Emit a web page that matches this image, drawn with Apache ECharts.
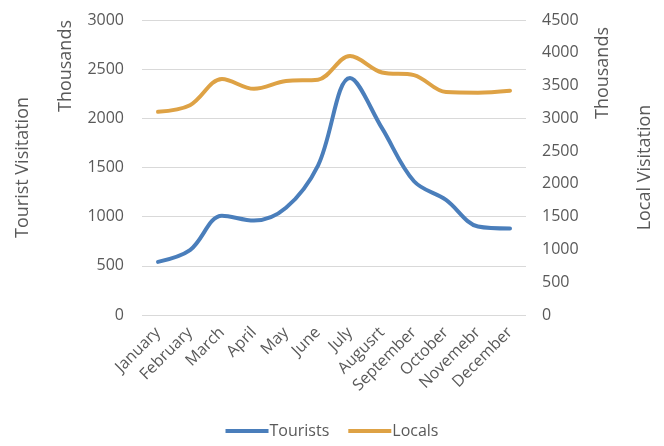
<!DOCTYPE html>
<html>
<head>
<meta charset="utf-8">
<script src="https://cdn.jsdelivr.net/npm/echarts@6/dist/echarts.min.js"></script>
<style>
  html, body { margin: 0; padding: 0; background: #fff; }
  #chart { width: 664px; height: 446px; }
</style>
</head>
<body>
<div id="chart"></div>
<script>
// Monthly visitation, in thousands
const months = ['January', 'February', 'March', 'April', 'May', 'June', 'July', 'Augusrt', 'September', 'October', 'Novemebr', 'December'];
const tourists = [540, 660, 1010, 960, 1090, 1520, 2410, 1900, 1360, 1170, 900, 880];
const locals = [3100, 3200, 3600, 3450, 3570, 3590, 3950, 3700, 3660, 3400, 3390, 3420];

const font = 'Open Sans, Noto Sans, sans-serif';
const grey = '#595959';

const chart = echarts.init(document.getElementById('chart'));
chart.setOption({
  animation: false,
  textStyle: { fontFamily: font },
  grid: { left: 142, right: 138, top: 20, bottom: 131 },
  legend: {
    bottom: 2,
    left: 'center',
    itemWidth: 43,
    itemHeight: 4,
    itemGap: 19,
    icon: 'rect',
    textStyle: { color: grey, fontSize: 16, fontFamily: font, padding: [0, 0, 0, -4] },
    data: ['Tourists', 'Locals']
  },
  xAxis: {
    type: 'category',
    data: months,
    boundaryGap: true,
    axisLine: { show: false },
    axisTick: { show: false },
    axisLabel: { rotate: 45, color: grey, fontSize: 16, margin: 15, interval: 0 }
  },
  yAxis: [
    {
      type: 'value', min: 0, max: 3000, interval: 500,
      name: 'Tourist Visitation', nameLocation: 'middle', nameGap: 110,
      nameTextStyle: { color: grey, fontSize: 18 },
      axisLabel: { color: grey, fontSize: 16, margin: 18, formatter: v => String(v) },
      axisLine: { show: false }, axisTick: { show: false },
      splitLine: { lineStyle: { color: '#d9d9d9', width: 1 } }
    },
    {
      type: 'value', min: 0, max: 4500, interval: 500,
      name: 'Local Visitation', nameLocation: 'middle', nameGap: 110,
      nameTextStyle: { color: grey, fontSize: 18 },
      axisLabel: { color: grey, fontSize: 16, margin: 16, formatter: v => String(v) },
      axisLine: { show: false }, axisTick: { show: false },
      splitLine: { show: false }
    }
  ],
  graphic: [
    { type: 'text', left: 57, top: 20, style: { text: 'Thousands', fill: grey, fontSize: 18, fontFamily: font }, rotation: Math.PI / 2, originX: 0, originY: 0 },
    { type: 'text', left: 594, top: 27, style: { text: 'Thousands', fill: grey, fontSize: 18, fontFamily: font }, rotation: Math.PI / 2, originX: 0, originY: 0 }
  ],
  series: [
    {
      name: 'Tourists', type: 'line', yAxisIndex: 0, data: tourists,
      smooth: 0.35, symbol: 'none',
      lineStyle: { color: '#4A7EBB', width: 4, cap: 'round' },
      itemStyle: { color: '#4A7EBB' }
    },
    {
      name: 'Locals', type: 'line', yAxisIndex: 1, data: locals,
      smooth: 0.35, symbol: 'none',
      lineStyle: { color: '#DEA245', width: 4, cap: 'round' },
      itemStyle: { color: '#DEA245' }
    }
  ]
});
</script>
</body>
</html>
